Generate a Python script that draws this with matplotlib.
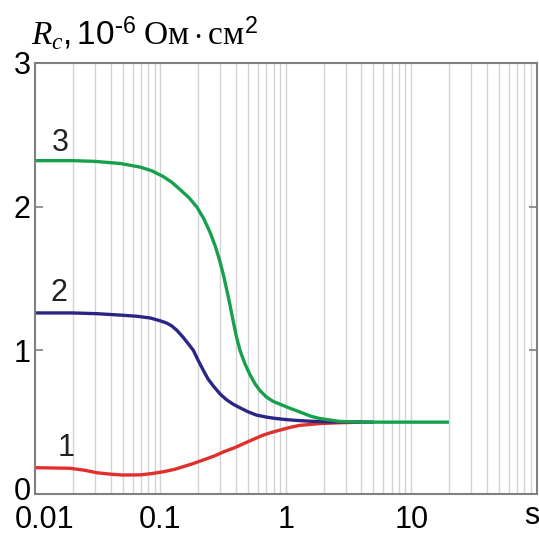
import matplotlib
matplotlib.use("Agg")
import matplotlib.pyplot as plt
import matplotlib.transforms as mtransforms
from matplotlib.ticker import LogLocator, NullFormatter, FixedLocator

plt.rcParams['font.family'] = ['Liberation Sans', 'DejaVu Sans']
plt.rcParams['mathtext.fontset'] = 'custom'
plt.rcParams['mathtext.rm'] = 'Liberation Serif'
plt.rcParams['mathtext.it'] = 'Liberation Serif:italic'
plt.rcParams['mathtext.sf'] = 'Liberation Sans'

# Data
red_x = [0.01, 0.019, 0.025, 0.031, 0.04, 0.05, 0.069, 0.085, 0.106, 0.13, 0.152, 0.18, 0.22, 0.27, 0.32, 0.39, 0.46, 0.55, 0.66, 0.78, 0.9, 1.1, 1.3, 1.87, 2.7, 4.0]
red_y = [0.183, 0.179, 0.165, 0.148, 0.138, 0.132, 0.133, 0.142, 0.155, 0.172, 0.19, 0.21, 0.237, 0.265, 0.294, 0.322, 0.35, 0.38, 0.41, 0.43, 0.445, 0.465, 0.478, 0.49, 0.496, 0.50]

blue_x = [0.01, 0.02, 0.031, 0.048, 0.065, 0.083, 0.1, 0.112, 0.123, 0.135, 0.152, 0.167, 0.183, 0.2, 0.22, 0.24, 0.265, 0.3, 0.338, 0.38, 0.431, 0.5, 0.58, 0.7, 0.84, 1.0, 1.22, 1.6, 2.25, 5.0]
blue_y = [1.26, 1.26, 1.255, 1.245, 1.237, 1.225, 1.205, 1.19, 1.17, 1.14, 1.09, 1.045, 1.00, 0.93, 0.86, 0.80, 0.75, 0.695, 0.655, 0.625, 0.60, 0.572, 0.55, 0.535, 0.525, 0.518, 0.512, 0.506, 0.502, 0.50]

green_x = [0.01, 0.02, 0.03, 0.048, 0.069, 0.085, 0.105, 0.123, 0.143, 0.17, 0.196, 0.222, 0.249, 0.275, 0.299, 0.32, 0.338, 0.358, 0.381, 0.405, 0.431, 0.47, 0.518, 0.57, 0.622, 0.7, 0.79, 0.9, 1.02, 1.30, 1.6, 1.87, 2.7, 4.0, 20]
green_y = [2.32, 2.32, 2.315, 2.30, 2.275, 2.25, 2.21, 2.17, 2.12, 2.06, 1.995, 1.915, 1.82, 1.72, 1.615, 1.515, 1.42, 1.32, 1.20, 1.09, 1.00, 0.91, 0.83, 0.765, 0.72, 0.675, 0.645, 0.625, 0.605, 0.57, 0.54, 0.525, 0.505, 0.50, 0.50]

curve_labels = ["1", "2", "3"]
label_x = [0.0177, 0.0156, 0.0158]
label_y = [0.32, 1.40, 2.44]

x_ticks = [0.01, 0.1, 1, 10]
x_ticklabels = ["0.01", "0.1", "1", "10"]
y_ticks = [0, 1, 2, 3]

fig = plt.figure(figsize=(5.39, 5.38), dpi=100)
ax = fig.add_axes([0.065, 0.0818, 0.9305, 0.8012])

for xs, ys, c in [(red_x, red_y, '#e0302c'), (blue_x, blue_y, '#2b2585'), (green_x, green_y, '#17a04c')]:
    ax.plot(xs, ys, color=c, lw=2.4, solid_capstyle='butt', solid_joinstyle='round')

ax.set_xscale('log')
ax.set_xlim(0.01, 100)
ax.set_ylim(0, 3)

# vertical grid at every log position
grid_vals = []
for dec in [0.01, 0.1, 1, 10]:
    for m in range(1, 10):
        grid_vals.append(dec * m)
for g in grid_vals[1:]:
    ax.axvline(g, color='#d2d2d2', lw=1.0, zorder=0)

ax.xaxis.set_major_locator(FixedLocator(x_ticks))
ax.set_xticklabels(x_ticklabels)
ax.xaxis.set_minor_locator(LogLocator(base=10, subs='auto'))
ax.xaxis.set_minor_formatter(NullFormatter())
ax.tick_params(axis='x', which='both', length=0, pad=8, labelsize=22)

# shift the first x label slightly right as in the reference
lbls = ax.get_xticklabels()
lbls[0].set_transform(lbls[0].get_transform() + mtransforms.ScaledTranslation(10 / 100, 0, fig.dpi_scale_trans))

ax.set_yticks(y_ticks)
ax.tick_params(axis='y', which='both', direction='in', length=6, width=1.2,
               color='#808080', left=True, right=True, pad=3, labelsize=22)
ylbls = ax.get_yticklabels()
ylbls[0].set_transform(ylbls[0].get_transform() + mtransforms.ScaledTranslation(0, 5 / 100, fig.dpi_scale_trans))

for s in ax.spines.values():
    s.set_color('#808080')
    s.set_linewidth(1.5)

for t, lx, ly in zip(curve_labels, label_x, label_y):
    ax.text(lx, ly, t, fontsize=22, ha='center', va='center', color='#222222')

fig.text(0.986, 0.04, "s", fontsize=22, ha='center', va='center')

fig.text(0.058, 0.918,
         r"$\mathit{R}_{\mathit{c}}\mathsf{,10}^{\mathsf{\text{-}6}}\ \mathrm{Ом}\cdot\mathrm{см}^{\mathsf{2}}$",
         fontsize=24, ha='left', va='baseline')

fig.savefig("out.png", dpi=100)
